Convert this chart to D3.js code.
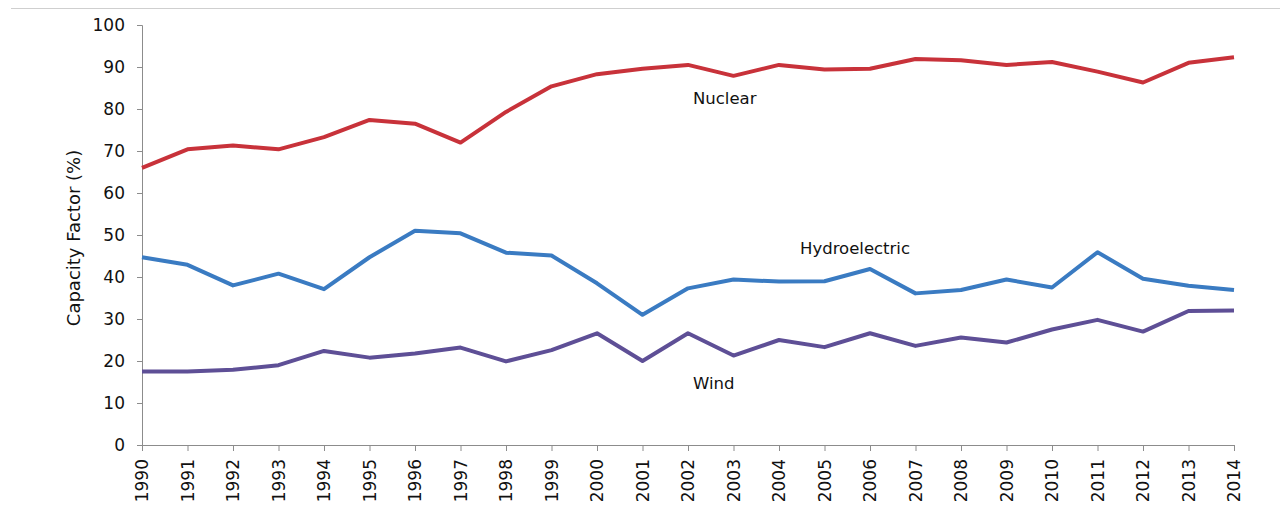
<!DOCTYPE html>
<html>
<head>
<meta charset="utf-8">
<script src="https://cdn.jsdelivr.net/npm/d3@7"></script>
<style>
  html, body { margin: 0; padding: 0; background: #fff; }
  svg { display: block; }
  text { font-family: "DejaVu Sans", Verdana, sans-serif; fill: #111; }
</style>
</head>
<body>
<svg id="chart" width="1280" height="529"></svg>
<script>
// Capacity factor by year and generation source (%)
const years = [1990, 1991, 1992, 1993, 1994, 1995, 1996, 1997, 1998, 1999,
               2000, 2001, 2002, 2003, 2004, 2005, 2006, 2007, 2008, 2009,
               2010, 2011, 2012, 2013, 2014];

const nuclear = [66.0, 70.4, 71.3, 70.4, 73.3, 77.4, 76.5, 72.0, 79.3, 85.4,
                 88.3, 89.6, 90.5, 87.9, 90.5, 89.4, 89.6, 91.9, 91.6, 90.5,
                 91.2, 88.9, 86.3, 91.0, 92.3];

const hydro = [44.7, 42.9, 38.0, 40.8, 37.1, 44.7, 51.0, 50.4, 45.8, 45.1,
               38.5, 31.0, 37.3, 39.4, 38.9, 39.0, 41.9, 36.1, 36.9, 39.4,
               37.5, 45.9, 39.6, 37.9, 36.9];

const wind = [17.5, 17.5, 17.9, 19.0, 22.4, 20.8, 21.8, 23.2, 19.9, 22.6,
              26.6, 20.0, 26.6, 21.3, 25.0, 23.3, 26.6, 23.6, 25.6, 24.4,
              27.5, 29.8, 27.0, 31.9, 32.0];

const yTicks = [0, 10, 20, 30, 40, 50, 60, 70, 80, 90, 100];

const seriesNames = ["Nuclear", "Hydroelectric", "Wind"];
const seriesColors = ["#c8323a", "#3a7bc2", "#5e4f96"];

const series = [
  { name: seriesNames[0], values: nuclear, color: seriesColors[0], lx: 693, ly: 98 },
  { name: seriesNames[1], values: hydro, color: seriesColors[1], lx: 800, ly: 248 },
  { name: seriesNames[2], values: wind, color: seriesColors[2], lx: 693, ly: 383 }
];

const svg = d3.select("#chart");
const plotLeft = 142, plotRight = 1234, plotTop = 25, plotBottom = 445;

const x = d3.scalePoint().domain(years).range([plotLeft, plotRight]);
const y = d3.scaleLinear().domain([0, 100]).range([plotBottom, plotTop]);

// thin rule across the top of the figure
svg.append("line")
  .attr("x1", 11).attr("x2", 1280)
  .attr("y1", 8.5).attr("y2", 8.5)
  .attr("stroke", "#cfcfcf").attr("stroke-width", 1);

// y axis
const yAxis = svg.append("g")
  .attr("transform", `translate(${plotLeft},0)`)
  .call(d3.axisLeft(y).tickValues(yTicks).tickSize(5).tickPadding(12));
yAxis.select(".domain").attr("stroke", "#8c8c8c");
yAxis.selectAll(".tick line").attr("stroke", "#8c8c8c");
yAxis.selectAll(".tick text")
  .style("font-size", "17px")
  .attr("fill", "#111");

// x axis
const xAxis = svg.append("g")
  .attr("transform", `translate(0,${plotBottom})`)
  .call(d3.axisBottom(x).tickSize(6).tickPadding(6).tickFormat(d3.format("d")));
xAxis.select(".domain").attr("stroke", "#8c8c8c");
xAxis.selectAll(".tick line").attr("stroke", "#8c8c8c");
xAxis.selectAll(".tick text")
  .style("font-size", "17px")
  .attr("fill", "#111")
  .attr("text-anchor", "end")
  .attr("dy", "0.35em")
  .attr("transform", "translate(0,14) rotate(-90)")
  .attr("x", 0).attr("y", 0);

// axis title
svg.append("text")
  .attr("transform", "translate(80,238) rotate(-90)")
  .attr("text-anchor", "middle")
  .style("font-size", "18px")
  .text("Capacity Factor (%)");

// series lines
const line = d3.line()
  .x((d, i) => x(years[i]))
  .y(d => y(d));

svg.append("g").selectAll("path")
  .data(series)
  .join("path")
  .attr("d", d => line(d.values))
  .attr("fill", "none")
  .attr("stroke", d => d.color)
  .attr("stroke-width", 4)
  .attr("stroke-linejoin", "round");

// series labels
svg.append("g").selectAll("text")
  .data(series)
  .join("text")
  .attr("x", d => d.lx)
  .attr("y", d => d.ly)
  .attr("dy", "0.35em")
  .style("font-size", "16.5px")
  .text(d => d.name);
</script>
</body>
</html>
